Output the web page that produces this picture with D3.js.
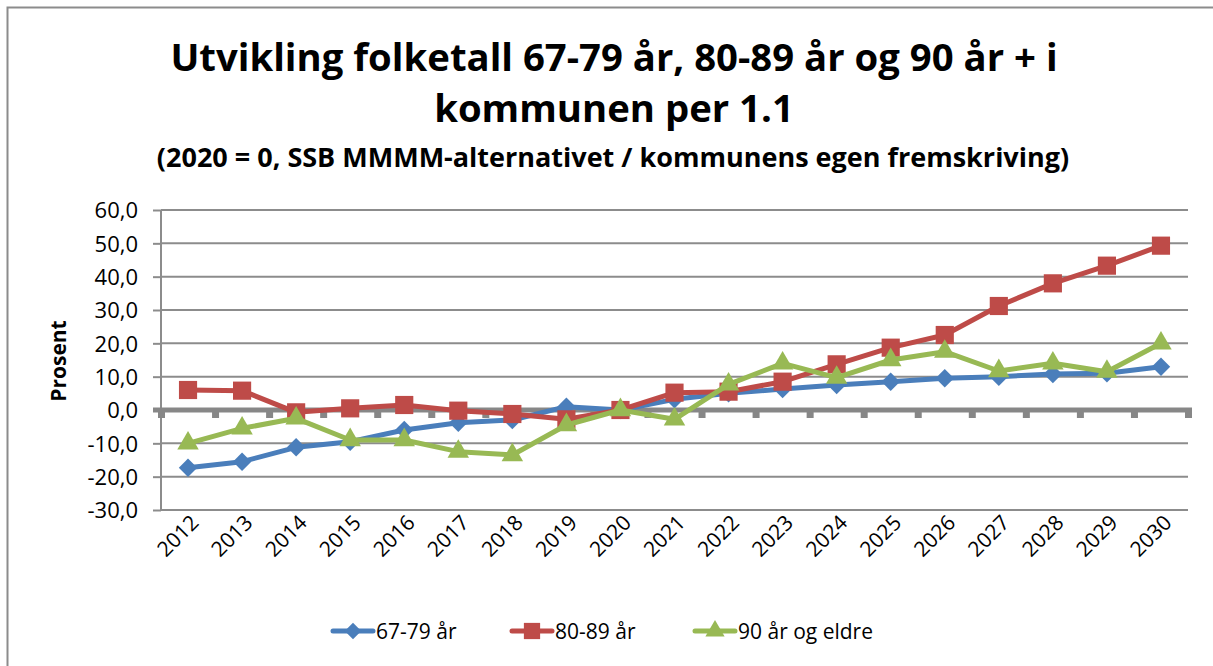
<!DOCTYPE html>
<html lang="no">
  <head>
    <meta charset="utf-8">
    <title>Utvikling folketall</title>
    <script src="https://cdn.jsdelivr.net/npm/d3@7/dist/d3.min.js"></script>
    <style>
      body { margin: 0; background: #fff; }
      svg text { font-family: "Open Sans", Carlito, Calibri, sans-serif; fill: #000; }
    </style>
  </head>
  <body>
    <div id="chart"></div>
  </body>
</html>

<script>

const years = d3.range(2012, 2031).map(String);
const yTicks = [-30, -20, -10, 0, 10, 20, 30, 40, 50, 60];

const s6779 = [-17.3, -15.5, -11.2, -9.5, -6.0, -3.8, -3.0, 1.0, 0, 3.2, 5.0, 6.3, 7.5, 8.5, 9.5, 10.0, 10.8, 11.0, 13.0];
const s8089 = [6.0, 5.8, -0.7, 0.5, 1.5, -0.2, -1.2, -2.8, 0, 5.2, 5.5, 8.5, 13.7, 18.7, 22.5, 31.2, 38.0, 43.3, 49.3];
const s90 = [-10.0, -5.5, -2.5, -9.0, -9.0, -12.5, -13.5, -4.5, 0, -2.8, 7.7, 14.0, 9.7, 15.0, 17.5, 11.7, 14.0, 11.5, 20.0];

const seriesNames = ["67-79 år", "80-89 år", "90 år og eldre"];
const seriesColors = ["#4a7ebb", "#be4b48", "#98b954"];
const seriesSymbols = [d3.symbolSquare, d3.symbolSquare, d3.symbolTriangle];
const seriesSizes = [170, 330, 200];
const seriesRotate = [45, 0, 0];
const seriesData = [s6779, s8089, s90];

const width = 1213, height = 666;
const plotLeft = 161, plotRight = 1188, plotTop = 210, plotBottom = 510;

const svg = d3.select("#chart")
  .append("svg")
  .attr("width", width)
  .attr("height", height);

// outer frame
svg.append("rect")
  .attr("x", 7.5).attr("y", 7.5)
  .attr("width", width + 20).attr("height", height + 20)
  .style("fill", "none")
  .style("stroke", "#8c8c8c")
  .style("stroke-width", 2);

// titles
const title = svg.append("g").attr("text-anchor", "middle").style("font-weight", "bold");
title.append("text").attr("x", 614).attr("y", 71).style("font-size", "38.3px")
  .text("Utvikling folketall 67-79 år, 80-89 år og 90 år + i");
title.append("text").attr("x", 614).attr("y", 122).style("font-size", "38.3px")
  .text("kommunen per 1.1");
title.append("text").attr("x", 613).attr("y", 167).style("font-size", "27px")
  .text("(2020 = 0, SSB MMMM-alternativet / kommunens egen fremskriving)");

const x = d3.scaleBand().domain(years).range([plotLeft, plotRight]);
const y = d3.scaleLinear().domain([-30, 60]).range([plotBottom, plotTop]);

// y axis
const yAxis = svg.append("g")
  .attr("transform", `translate(${plotLeft},0)`)
  .call(d3.axisLeft(y).tickValues(yTicks).tickSize(8)
    .tickFormat(d => d3.format(".1f")(d).replace(".", ",").replace("−", "-")));
yAxis.select(".domain").remove();
yAxis.selectAll(".tick line").style("stroke", "#8c8c8c").style("stroke-width", 2);
yAxis.selectAll(".tick text").attr("x", -23).style("font-size", "22px").attr("dy", "0.36em");

// gridlines
svg.append("g").selectAll("line")
  .data(yTicks.filter(d => d !== 0))
  .join("line")
  .attr("x1", plotLeft).attr("x2", plotRight)
  .attr("y1", d => y(d)).attr("y2", d => y(d))
  .style("stroke", "#8c8c8c").style("stroke-width", 2);

svg.append("line")
  .attr("x1", plotLeft).attr("x2", plotLeft).attr("y1", plotTop).attr("y2", plotBottom)
  .style("stroke", "#8c8c8c").style("stroke-width", 2);

// zero axis with category ticks
const boundaries = years.map(d => x(d)).concat([plotRight]);
svg.append("g").selectAll("rect")
  .data(boundaries)
  .join("rect")
  .attr("x", d => d - 3).attr("y", y(0))
  .attr("width", 7).attr("height", 8)
  .style("fill", "#878787");
svg.append("rect")
  .attr("x", plotLeft - 8).attr("y", y(0) - 2.5)
  .attr("width", plotRight - plotLeft + 12).attr("height", 5)
  .style("fill", "#878787");

// x labels
svg.append("g").selectAll("text")
  .data(years)
  .join("text")
  .attr("text-anchor", "end")
  .attr("transform", d => `translate(${x(d) + x.bandwidth() / 2 + 12},${plotBottom + 14}) rotate(-45)`)
  .style("font-size", "21px")
  .text(d => d);

// y label
svg.append("text")
  .attr("transform", "translate(66,361) rotate(-90)")
  .attr("text-anchor", "middle")
  .style("font-size", "21px").style("font-weight", "bold")
  .text("Prosent");

// series
const line = d3.line()
  .x((d, i) => x(years[i]) + x.bandwidth() / 2)
  .y(d => y(d));

seriesData.forEach((vals, k) => {
  const g = svg.append("g");
  g.append("path")
    .datum(vals)
    .attr("d", line)
    .style("fill", "none")
    .style("stroke", seriesColors[k])
    .style("stroke-width", 5)
    .style("stroke-linejoin", "round");
  g.selectAll("path.mark")
    .data(vals)
    .join("path")
    .attr("class", "mark")
    .attr("d", d3.symbol(seriesSymbols[k], seriesSizes[k]))
    .attr("transform", (d, i) => `translate(${x(years[i]) + x.bandwidth() / 2},${y(d)}) rotate(${seriesRotate[k]})`)
    .style("fill", seriesColors[k]);
});

// legend
const legendX = [333, 512, 695];
const legend = svg.append("g").selectAll("g")
  .data(seriesNames)
  .join("g")
  .attr("transform", (d, i) => `translate(${legendX[i]},631)`);
legend.append("line")
  .attr("x1", 0).attr("x2", 40)
  .style("stroke", (d, i) => seriesColors[i])
  .style("stroke-width", 5).style("stroke-linecap", "round");
legend.append("path")
  .attr("d", (d, i) => d3.symbol(seriesSymbols[i], seriesSizes[i] * 0.8)())
  .attr("transform", (d, i) => `translate(20,0) rotate(${seriesRotate[i]})`)
  .style("fill", (d, i) => seriesColors[i]);
legend.append("text")
  .attr("x", 43).attr("dy", "0.36em")
  .style("font-size", "21px")
  .text(d => d);

</script>
